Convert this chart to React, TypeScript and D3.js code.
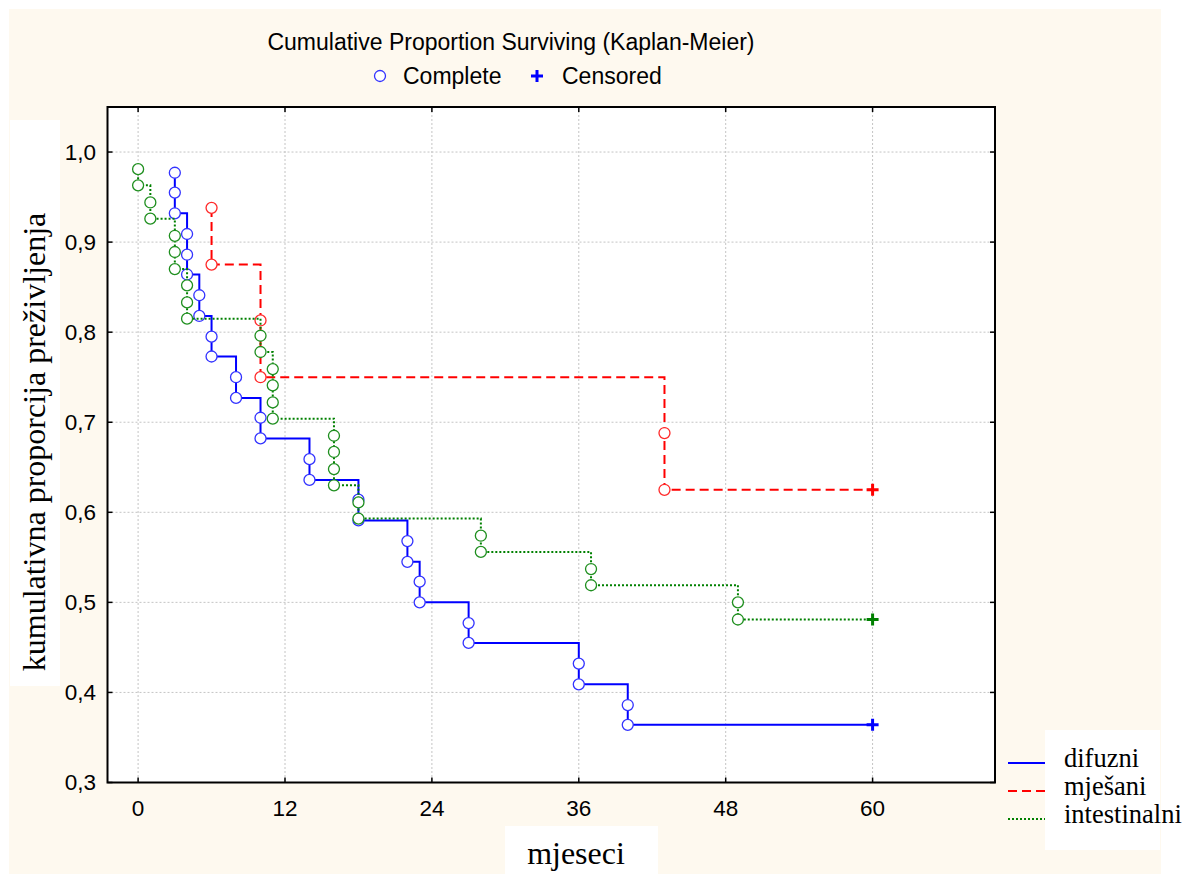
import React, { useEffect, useRef } from 'react';
import * as d3 from 'd3';

// Kaplan-Meier steps (time in months, proportion surviving)
const xTicks = [0, 12, 24, 36, 48, 60];
const yTicks = [0.3, 0.4, 0.5, 0.6, 0.7, 0.8, 0.9, 1.0];

const difuzniTimes = [3, 3, 3, 4, 4, 4, 5, 5, 6, 6, 8, 8, 10, 10, 14, 14, 18, 18, 22, 22, 23, 23, 27, 27, 36, 36, 40, 40];
const difuzniSurv = [0.977, 0.955, 0.932, 0.909, 0.886, 0.864, 0.841, 0.818, 0.795, 0.773, 0.750, 0.727, 0.705, 0.682, 0.659, 0.636, 0.614, 0.591, 0.568, 0.545, 0.523, 0.500, 0.477, 0.455, 0.432, 0.409, 0.386, 0.364];
const difuzniCensored = [60, 0.364];

const mjesaniTimes = [6, 6, 10, 10, 43, 43];
const mjesaniSurv = [0.938, 0.875, 0.813, 0.750, 0.688, 0.625];
const mjesaniCensored = [60, 0.625];

const intestinalniTimes = [0, 0, 1, 1, 3, 3, 3, 4, 4, 4, 10, 10, 11, 11, 11, 11, 16, 16, 16, 16, 18, 18, 28, 28, 37, 37, 49, 49];
const intestinalniSurv = [0.981, 0.963, 0.944, 0.926, 0.907, 0.889, 0.870, 0.852, 0.833, 0.815, 0.796, 0.778, 0.759, 0.741, 0.722, 0.704, 0.685, 0.667, 0.648, 0.630, 0.611, 0.593, 0.574, 0.556, 0.537, 0.519, 0.500, 0.481];
const intestinalniCensored = [60, 0.481];

const groupNames = ['difuzni', 'mješani', 'intestinalni'];

export default function App() {
    const ref = useRef<SVGSVGElement>(null);

    useEffect(() => {
        const svg = d3.select(ref.current);
        svg.selectAll('*').remove();

        const sans = 'Liberation Sans, Arial, sans-serif';
        const serif = 'Liberation Serif, Times New Roman, serif';

        // page background
        svg.append('rect').attr('width', 1188).attr('height', 874).attr('fill', '#ffffff');
        svg.append('rect').attr('x', 9).attr('y', 9).attr('width', 1152).attr('height', 865).attr('fill', '#fef9ef');

        const x = d3.scaleLinear().domain([-2.5, 70]).range([107.5, 995]);
        const y = d3.scaleLinear().domain([0.3, 1.05]).range([782.5, 107]);

        // plot area
        svg.append('rect')
            .attr('x', x(-2.5)).attr('y', y(1.05))
            .attr('width', x(70) - x(-2.5)).attr('height', y(0.3) - y(1.05))
            .attr('fill', '#ffffff');

        // grid lines
        const grid = svg.append('g').attr('stroke', '#c4c4c4').attr('stroke-width', 1).attr('stroke-dasharray', '2,2');
        xTicks.forEach(t => {
            grid.append('line').attr('x1', x(t)).attr('x2', x(t)).attr('y1', y(1.05)).attr('y2', y(0.3));
        });
        yTicks.forEach(v => {
            grid.append('line').attr('x1', x(-2.5)).attr('x2', x(70)).attr('y1', y(v)).attr('y2', y(v));
        });

        // series
        const series = [
            { times: difuzniTimes, surv: difuzniSurv, cens: difuzniCensored, color: '#0000ff', mark: '#3333ff', dash: null, width: 2 },
            { times: mjesaniTimes, surv: mjesaniSurv, cens: mjesaniCensored, color: '#ff0000', mark: '#ff2a2a', dash: '9,5', width: 2 },
            { times: intestinalniTimes, surv: intestinalniSurv, cens: intestinalniCensored, color: '#008000', mark: '#1f8f1f', dash: '2,2', width: 2 },
        ];

        const line = d3.line<[number, number]>()
            .x(d => x(d[0]))
            .y(d => y(d[1]))
            .curve(d3.curveStepAfter);

        series.forEach(s => {
            const pts: [number, number][] = s.times.map((t, i) => [t, s.surv[i]]);
            const all: [number, number][] = [...pts, [s.cens[0], s.cens[1]]];
            const g = svg.append('g');
            g.append('path')
                .datum(all)
                .attr('fill', 'none')
                .attr('stroke', s.color)
                .attr('stroke-width', s.width)
                .attr('stroke-dasharray', s.dash)
                .attr('d', line);
            g.selectAll('circle')
                .data(pts)
                .join('circle')
                .attr('cx', d => x(d[0]))
                .attr('cy', d => y(d[1]))
                .attr('r', 5.5)
                .attr('fill', '#ffffff')
                .attr('stroke', s.mark)
                .attr('stroke-width', 1.3);
            const cx = x(s.cens[0]), cy = y(s.cens[1]);
            g.append('path')
                .attr('d', `M${cx - 6},${cy}H${cx + 6}M${cx},${cy - 6}V${cy + 6}`)
                .attr('stroke', s.color)
                .attr('stroke-width', 3)
                .attr('fill', 'none');
        });

        // frame
        svg.append('rect')
            .attr('x', x(-2.5)).attr('y', y(1.05))
            .attr('width', x(70) - x(-2.5)).attr('height', y(0.3) - y(1.05))
            .attr('fill', 'none').attr('stroke', '#000').attr('stroke-width', 2);

        // inside ticks on all four sides
        const ticks = svg.append('g').attr('stroke', '#000').attr('stroke-width', 1.5);
        xTicks.forEach(t => {
            ticks.append('line').attr('x1', x(t)).attr('x2', x(t)).attr('y1', y(0.3)).attr('y2', y(0.3) - 5);
            ticks.append('line').attr('x1', x(t)).attr('x2', x(t)).attr('y1', y(1.05)).attr('y2', y(1.05) + 5);
        });
        yTicks.forEach(v => {
            ticks.append('line').attr('x1', x(-2.5)).attr('x2', x(-2.5) + 5).attr('y1', y(v)).attr('y2', y(v));
            ticks.append('line').attr('x1', x(70)).attr('x2', x(70) - 5).attr('y1', y(v)).attr('y2', y(v));
        });

        // tick labels
        svg.append('g').selectAll('text')
            .data(yTicks)
            .join('text')
            .attr('x', 96)
            .attr('y', d => y(d))
            .attr('dy', '0.35em')
            .attr('text-anchor', 'end')
            .attr('font-family', sans)
            .attr('font-size', 22.5)
            .text(d => d3.format('.1f')(d).replace('.', ','));

        svg.append('g').selectAll('text')
            .data(xTicks)
            .join('text')
            .attr('x', d => x(d))
            .attr('y', 808)
            .attr('dy', '0.35em')
            .attr('text-anchor', 'middle')
            .attr('font-family', sans)
            .attr('font-size', 22.5)
            .text(d => String(d));

        // title and symbol legend
        svg.append('text')
            .attr('x', 511).attr('y', 42).attr('dy', '0.35em')
            .attr('text-anchor', 'middle')
            .attr('font-family', sans).attr('font-size', 23)
            .text('Cumulative Proportion Surviving (Kaplan-Meier)');
        svg.append('circle').attr('cx', 380).attr('cy', 76).attr('r', 5.5)
            .attr('fill', '#fff').attr('stroke', '#3333ff').attr('stroke-width', 1.3);
        svg.append('text').attr('x', 403).attr('y', 76).attr('dy', '0.35em')
            .attr('font-family', sans).attr('font-size', 23).text('Complete');
        svg.append('path').attr('d', 'M531,76H543M537,70V82').attr('stroke', '#0000ff').attr('stroke-width', 3);
        svg.append('text').attr('x', 562).attr('y', 76).attr('dy', '0.35em')
            .attr('font-family', sans).attr('font-size', 23).text('Censored');

        // axis titles
        svg.append('rect').attr('x', 10).attr('y', 120).attr('width', 50).attr('height', 566).attr('fill', '#fff');
        svg.append('text')
            .attr('transform', 'translate(34,442) rotate(-90)')
            .attr('dy', '0.35em')
            .attr('text-anchor', 'middle')
            .attr('font-family', serif).attr('font-size', 32)
            .text('kumulativna proporcija preživljenja');

        svg.append('rect').attr('x', 505).attr('y', 826).attr('width', 153).attr('height', 48).attr('fill', '#fff');
        svg.append('text')
            .attr('x', 576).attr('y', 853).attr('dy', '0.35em')
            .attr('text-anchor', 'middle')
            .attr('font-family', serif).attr('font-size', 32)
            .text('mjeseci');

        // group legend
        const legendY = [763, 791, 819];
        series.forEach((s, i) => {
            svg.append('line')
                .attr('x1', 1008).attr('x2', 1046)
                .attr('y1', legendY[i]).attr('y2', legendY[i])
                .attr('stroke', s.color).attr('stroke-width', 2)
                .attr('stroke-dasharray', s.dash);
        });
        svg.append('rect').attr('x', 1045).attr('y', 730).attr('width', 115).attr('height', 120).attr('fill', '#fff');
        svg.append('g').selectAll('text')
            .data(groupNames)
            .join('text')
            .attr('x', 1064)
            .attr('y', (d, i) => legendY[i] - 5)
            .attr('dy', '0.35em')
            .attr('font-family', serif).attr('font-size', 26.5)
            .text(d => d);
    }, []);

    return (
        <svg ref={ref} width={1188} height={874} style={{ position: 'absolute', left: 0, top: 0 }}></svg>
    );
}
